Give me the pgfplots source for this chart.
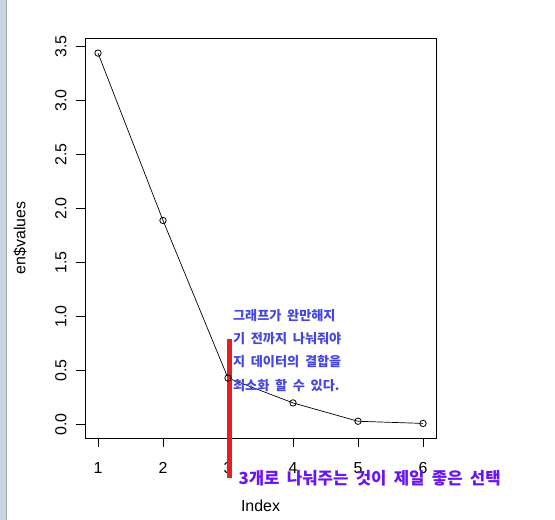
\documentclass[border=0pt]{standalone}
\usepackage{pgfplots}
\pgfplotsset{compat=1.18}
\usepackage{fontspec}
\setmainfont{Liberation Sans}
\newfontfamily\cjk[WordSpace=3.3]{Noto Sans CJK KR}
\newfontfamily\cjkb[WordSpace=1.9]{Noto Sans CJK KR}
\definecolor{notecol}{RGB}{70,70,225}
\definecolor{notecolb}{RGB}{105,20,245}
\definecolor{redline}{RGB}{232,30,38}
\definecolor{stripA}{RGB}{200,212,228}
\begin{document}
\begin{tikzpicture}[x=1bp,y=1bp]
\useasboundingbox (0,0) rectangle (555,520);
\fill[stripA] (0,0) rectangle (5.5,520);
\draw[gray!70,line width=0.8bp] (6.5,0) -- (6.5,520);
\begin{axis}[
  at={(85bp,82bp)}, anchor=south west,
  scale only axis, width=351bp, height=400bp,
  xmin=0.8, xmax=6.2, ymin=-0.125, ymax=3.58,
  axis line style={line width=0.8bp},
  xtick={1,2,3,4,5,6}, ytick={0,0.5,1,1.5,2,2.5,3,3.5},
  yticklabels={0.0,0.5,1.0,1.5,2.0,2.5,3.0,3.5},
  tick align=outside, major tick length=9bp,
  xtick pos=bottom, ytick pos=left,
  tick style={line width=0.8bp, black},
  /pgf/number format/assume math mode=true,
  tick label style={font=\fontsize{16}{18}\selectfont},
  xticklabel style={anchor=center, yshift=-21bp},
  yticklabel style={rotate=90, anchor=center, yshift=15bp},
  xlabel={Index}, ylabel={en\$values},
  label style={font=\fontsize{16}{18}\selectfont},
  xlabel style={at={(axis description cs:0.5,0)}, anchor=center, yshift=-68bp},
  ylabel style={at={(axis description cs:0,0.5)}, anchor=center, rotate=0, yshift=65bp},
  clip=false,
]
\addplot[black, line width=0.7bp, mark=o, mark size=3.2bp, mark options={line width=0.8bp}]
  coordinates {(1,3.44) (2,1.89) (3,0.43) (4,0.20) (5,0.03) (6,0.01)};
\addplot[redline, line width=5bp, no marks] coordinates {(3.03,0.79) (3.03,-0.50)};
\node[anchor=west, text=notecol, font=\cjk\bfseries\fontsize{13.2}{15}\selectfont, inner sep=0pt] at (axis cs:3.075,1.005) {그래프가 완만해지};
\node[anchor=west, text=notecol, font=\cjk\bfseries\fontsize{13.2}{15}\selectfont, inner sep=0pt] at (axis cs:3.075,0.795) {기 전까지 나눠줘야};
\node[anchor=west, text=notecol, font=\cjk\bfseries\fontsize{13.2}{15}\selectfont, inner sep=0pt] at (axis cs:3.075,0.58) {지 데이터의 결합을};
\node[anchor=west, text=notecol, font=\cjk\bfseries\fontsize{13.2}{15}\selectfont, inner sep=0pt] at (axis cs:3.075,0.365) {최소화 할 수 있다.};
\node[anchor=west, text=notecolb, font=\cjkb\bfseries\fontsize{16.8}{19}\selectfont, inner sep=0pt] at (axis cs:3.16,-0.50) {3개로 나눠주는 것이 제일 좋은 선택};
\end{axis}
\end{tikzpicture}
\end{document}
